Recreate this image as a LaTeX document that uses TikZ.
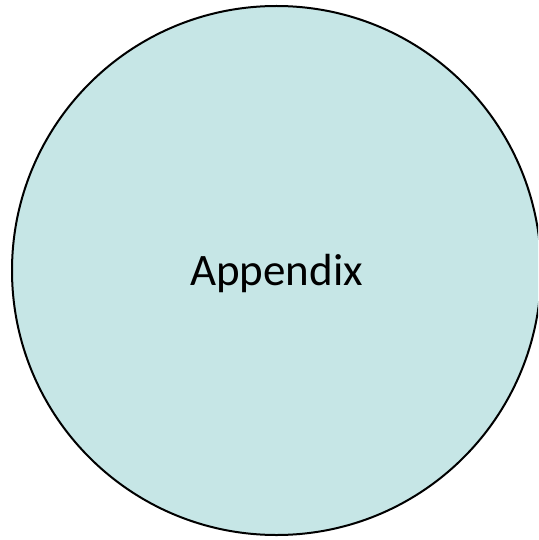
\documentclass[tikz,border=0pt]{standalone}
\usepackage{fontspec}
\setmainfont{Carlito}
\definecolor{appendixfill}{RGB}{198, 230, 230}
\usepackage{tikz}
\usetikzlibrary{positioning,shapes}

\begin{document}
\begin{tikzpicture}[x=1pt,y=-1pt]
    \clip (0,0) rectangle (538,540);
    \node[circle,draw=black,line width=2pt,fill=appendixfill,minimum size=529pt,inner sep=0pt] (appendix) at (276.5,270.5) {};
    \node[font=\fontsize{45}{54}\selectfont,inner sep=0pt] (label) at ([yshift=-3pt]appendix.center) {Appendix};
\end{tikzpicture}
\end{document}
